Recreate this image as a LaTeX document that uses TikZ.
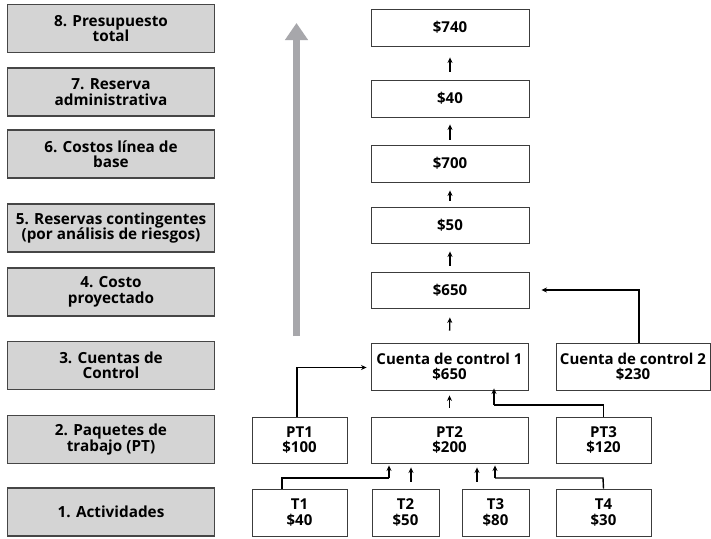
\documentclass[tikz,border=0pt]{standalone}
\usepackage{fontspec}
\setmainfont{Open Sans}
\usetikzlibrary{arrows.meta}
\definecolor{levelfill}{RGB}{212,212,212}
\definecolor{levelline}{RGB}{70,70,70}
\definecolor{flowgray}{RGB}{167,167,171}
\definecolor{boxline}{RGB}{60,60,60}
\begin{document}
\begin{tikzpicture}[x=1pt,y=-1pt,
  font=\bfseries\fontsize{15}{15.5}\selectfont,
  level/.style={draw=levelline,fill=levelfill,line width=1.1pt,minimum width=207pt,
    minimum height=48pt,align=center,inner sep=1pt,
    font=\bfseries\fontsize{15.3}{15.5}\selectfont},
  valbox/.style={draw=boxline,line width=0.9pt,align=center,inner sep=1pt},
  arr/.style={line width=1.4pt,-{Stealth[length=5.5pt,width=5pt]}},
  link/.style={line width=1.4pt}]
\useasboundingbox[fill=white] (0,0) rectangle (711,538);

% level labels on the left
\node[level] (L8) at (111,28.5) {8. Presupuesto\\total};
\node[level] (L7) at (111,92) {7. Reserva\\administrativa};
\node[level] (L6) at (111,154) {6. Costos línea de\\base};
\node[level] (L5) at (111,228) {5. Reservas contingentes\\(por análisis de riesgos)};
\node[level] (L4) at (111,292) {4. Costo\\proyectado};
\node[level] (L3) at (111,365.5) {3. Cuentas de\\Control};
\node[level] (L2) at (111,439.5) {2. Paquetes de\\trabajo (PT)};
\node[level] (L1) at (111,512) {1. Actividades};

% upward flow arrow
\coordinate (gbot) at (296.5,336);
\coordinate (gtop) at (296.5,23);
\draw[flowgray,line width=7pt,-{Triangle[length=17pt,width=22pt]}] (gbot) -- (gtop);

% budget column
\node[valbox,minimum width=158pt,minimum height=37pt] (B740) at (450,27.5) {\$740};
\node[valbox,minimum width=158pt,minimum height=37pt] (B40) at (450,98.5) {\$40};
\node[valbox,minimum width=158pt,minimum height=37pt] (B700) at (450,163.5) {\$700};
\node[valbox,minimum width=158pt,minimum height=36pt] (B50) at (450,225) {\$50};
\node[valbox,minimum width=158pt,minimum height=36pt] (B650) at (450,290) {\$650};

% control accounts
\node[valbox,minimum width=157pt,minimum height=47pt] (CC1) at (449.5,366.5) {Cuenta de control 1\\\$650};
\node[valbox,minimum width=154pt,minimum height=47pt] (CC2) at (633,366.5) {Cuenta de control 2\\\$230};

% work packages
\node[valbox,minimum width=95pt,minimum height=46pt] (PT1) at (299.5,440) {PT1\\\$100};
\node[valbox,minimum width=157pt,minimum height=46pt] (PT2) at (449.5,440) {PT2\\\$200};
\node[valbox,minimum width=95pt,minimum height=46pt] (PT3) at (603.5,440) {PT3\\\$120};

% activities
\node[valbox,minimum width=95pt,minimum height=47pt] (T1) at (299.5,512.5) {T1\\\$40};
\node[valbox,minimum width=67pt,minimum height=47pt] (T2) at (405.5,512.5) {T2\\\$50};
\node[valbox,minimum width=67pt,minimum height=47pt] (T3) at (495.5,512.5) {T3\\\$80};
\node[valbox,minimum width=95pt,minimum height=47pt] (T4) at (603.5,512.5) {T4\\\$30};

% roll-up of the budget column
\draw[arr,shorten <=8pt,shorten >=11pt] (B40.north) -- (B740.south);
\draw[arr,shorten <=5pt,shorten >=7pt] (B700.north) -- (B40.south);
\draw[arr,shorten <=6pt,shorten >=8pt] (B50.north) -- (B700.south);
\draw[arr,shorten <=6pt,shorten >=8pt] (B650.north) -- (B50.south);
\draw[arr,shorten <=12pt,shorten >=9pt] (CC1.north) -- (B650.south);
\draw[arr,shorten >=12pt] (CC2.north -| 639,0) |- (B650.east);

% work packages into control account 1
\draw[arr,shorten <=9pt,shorten >=5pt] (PT2.north) -- (CC1.south);
\draw[arr,shorten >=4pt] (PT1.north -| 297,0) |- ([yshift=-1pt]CC1.west);
\coordinate (pt3turn) at (PT3.north |- 0,405);
\draw[link] (PT3.north) -- (pt3turn) -- (pt3turn -| 494,0);
\draw[arr] (pt3turn -| 494,0) -- ([xshift=44.5pt,yshift=2pt]CC1.south);

% activities into PT2
\coordinate (t1turn) at (282,478);
\draw[link] (T1.north -| 282,0) -- (t1turn) -- (t1turn -| 389,0);
\draw[arr,shorten >=2pt] (t1turn -| 389,0) -- ([xshift=-60.5pt]PT2.south);
\draw[arr,shorten <=7pt,shorten >=4pt] (T2.north -| 411,0) -- ([xshift=-38.5pt]PT2.south);
\draw[arr,shorten <=7pt,shorten >=4pt] (T3.north -| 477,0) -- ([xshift=27.5pt]PT2.south);
\coordinate (t4turn) at (603,478);
\draw[link] (T4.north) -- (t4turn) -- (t4turn -| 495,0);
\draw[arr,shorten >=2pt] (t4turn -| 495,0) -- ([xshift=45.5pt]PT2.south);
\end{tikzpicture}
\end{document}
